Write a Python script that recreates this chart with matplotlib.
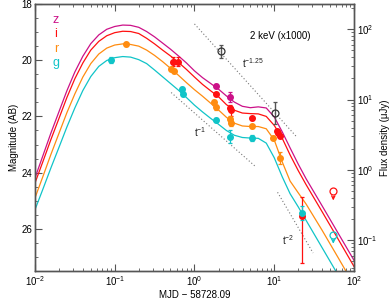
"""Optical light curve (g, r, i, z) with model curves and 2 keV X-ray points."""

import matplotlib.pyplot as plt
from matplotlib.ticker import LogLocator, MultipleLocator, NullFormatter

plt.rcParams['font.family'] = ['Liberation Sans', 'DejaVu Sans']
plt.rcParams['mathtext.fontset'] = 'custom'
plt.rcParams['mathtext.rm'] = 'Liberation Sans'
plt.rcParams['font.size'] = 7

# model curves (days since MJD 58728.09, AB mag)
MODEL_T = [0.01, 0.0126, 0.0158, 0.02, 0.0251, 0.0316, 0.0398, 0.0501, 0.0631,
           0.0794, 0.1, 0.126, 0.158, 0.2, 0.251, 0.316, 0.398, 0.501, 0.631,
           0.794, 1.0, 1.26, 1.58, 2.0, 2.51, 3.16, 3.98, 5.01, 6.31, 7.94,
           10.0, 12.6, 15.8, 20.0, 25.1, 39.8, 63.1, 100.0]
MODEL_Z = [24.19, 23.39, 22.60, 21.83, 21.09, 20.42, 19.86, 19.41, 19.10, 18.90,
           18.80, 18.75, 18.76, 18.83, 18.98, 19.17, 19.39, 19.61, 19.85, 20.10,
           20.38, 20.62, 20.82, 21.03, 21.27, 21.49, 21.64, 21.69, 21.66, 21.70,
           22.02, 22.55, 23.12, 23.70, 24.22, 25.18, 26.15, 27.12]
MODEL_I = [24.37, 23.60, 22.83, 22.07, 21.33, 20.66, 20.10, 19.64, 19.33, 19.13,
           19.02, 18.97, 18.98, 19.05, 19.22, 19.42, 19.64, 19.85, 20.08, 20.33,
           20.60, 20.86, 21.08, 21.30, 21.58, 21.78, 21.88, 21.90, 21.91, 22.00,
           22.32, 22.78, 23.37, 23.93, 24.43, 25.39, 26.36, 27.34]
MODEL_R = [24.90, 24.13, 23.36, 22.60, 21.87, 21.20, 20.60, 20.12, 19.78, 19.57,
           19.46, 19.42, 19.44, 19.50, 19.64, 19.83, 20.05, 20.29, 20.54, 20.80,
           21.05, 21.28, 21.52, 21.77, 22.03, 22.24, 22.34, 22.36, 22.36, 22.44,
           22.84, 23.62, 24.30, 24.72, 25.12, 26.05, 27.02, 28.00]
MODEL_G = [25.32, 24.58, 23.84, 23.10, 22.38, 21.70, 21.08, 20.58, 20.22, 20.01,
           19.91, 19.87, 19.89, 19.98, 20.12, 20.35, 20.59, 20.83, 21.07, 21.33,
           21.60, 21.84, 22.06, 22.28, 22.50, 22.67, 22.75, 22.77, 22.78, 22.95,
           23.47, 24.15, 24.75, 25.22, 25.70, 26.67, 27.64, 28.61]

# detections
Z_T = [1.87, 2.79]
Z_MAG = [20.93, 21.31]
Z_ERR = [0.07, 0.19]

I_T = [0.53, 0.62, 1.87, 2.79, 2.87, 5.2, 10.7, 11.3, 11.9, 22.2]
I_MAG = [20.05, 20.05, 21.21, 21.69, 21.76, 22.07, 22.52, 22.58, 22.68, 25.54]
I_ERR_BRIGHT = [0.17, 0.17, 0.05, 0.08, 0.1, 0.05, 0.05, 0.05, 0.05, 0.67]
I_ERR_FAINT = [0.17, 0.17, 0.05, 0.08, 0.22, 0.05, 0.05, 0.05, 0.05, 1.66]

R_T = [0.14, 0.51, 0.55, 1.75, 1.85, 2.75, 2.85, 5.2, 9.7, 11.9]
R_MAG = [19.43, 20.33, 20.38, 21.5, 21.68, 22.1, 22.23, 22.35, 22.76, 23.48]
R_ERR = [0.05, 0.06, 0.06, 0.08, 0.08, 0.1, 0.1, 0.05, 0.05, 0.22]

G_T = [0.089, 0.70, 0.72, 1.87, 2.8, 5.2, 22.2]
G_MAG = [20.0, 21.04, 21.21, 22.13, 22.72, 22.76, 25.44]
G_ERR = [0.1, 0.08, 0.08, 0.06, 0.22, 0.1, 0.25]

# upper limits (i, g)
UL_T = [55.0, 55.0]
UL_MAG = [24.67, 26.21]

# 2 keV (x1000), expressed on the AB scale
X_T = [2.15, 10.3]
X_MAG = [19.69, 21.87]
X_ERR = [0.24, 0.39]

# power-law guide lines: (t_start, t_end, mag_start, mag_end)
GUIDE_T0 = [1.0, 0.51, 11.0]
GUIDE_T1 = [19.4, 5.96, 30.7]
GUIDE_M0 = [18.71, 21.15, 24.70]
GUIDE_M1 = [22.75, 23.81, 26.86]
GUIDE_LABELS = [r'$\mathdefault{t^{-1.25}}$', r'$\mathdefault{t^{-1}}$', r'$\mathdefault{t^{-2}}$']
GUIDE_LABEL_T = [3.95, 1.0, 12.6]
GUIDE_LABEL_MAG = [20.1, 22.55, 26.4]

BANDS = ['z', 'i', 'r', 'g']
COLORS = {'z': '#cc1188', 'i': '#ff1010', 'r': '#ff8c10', 'g': '#10c4c8'}

fig = plt.figure(figsize=(3.9, 3.0), dpi=100)
ax = fig.add_axes([0.0897, 0.0967, 0.8180, 0.8900])

models = {'z': MODEL_Z, 'i': MODEL_I, 'r': MODEL_R, 'g': MODEL_G}
for b in BANDS:
    ax.plot(MODEL_T, models[b], color=COLORS[b], lw=0.9, zorder=2)

ebkw = dict(fmt='o', ms=4, capsize=1.5, elinewidth=0.9, capthick=0.9, zorder=3)
ax.errorbar(Z_T, Z_MAG, yerr=Z_ERR, color=COLORS['z'], **ebkw)
ax.errorbar(I_T, I_MAG, yerr=[I_ERR_BRIGHT, I_ERR_FAINT], color=COLORS['i'], **ebkw)
ax.errorbar(R_T, R_MAG, yerr=R_ERR, color=COLORS['r'], **ebkw)
ax.errorbar(G_T, G_MAG, yerr=G_ERR, color=COLORS['g'], **ebkw)

for t, m, c in zip(UL_T, UL_MAG, [COLORS['i'], COLORS['g']]):
    ax.plot(t, m, 'o', ms=5, mfc='none', mec=c, mew=0.9, zorder=3)
    ax.annotate('', xy=(t, m + 0.42), xytext=(t, m + 0.08),
                arrowprops=dict(arrowstyle='->', color=c, lw=0.9, mutation_scale=6))

ax.errorbar(X_T, X_MAG, yerr=X_ERR, fmt='o', ms=5, mfc='none', mec='#333333',
            color='#555555', capsize=1.5, elinewidth=1.0, capthick=1.0, mew=0.9, zorder=3)
ax.text(11.9, 19.14, '2 keV (x1000)', ha='center', va='center', fontsize=7)

for t0, t1, m0, m1 in zip(GUIDE_T0, GUIDE_T1, GUIDE_M0, GUIDE_M1):
    ax.plot([t0, t1], [m0, m1], ls=(0, (1, 2)), color='#777777', lw=0.8, zorder=1)
for lab, t, m in zip(GUIDE_LABELS, GUIDE_LABEL_T, GUIDE_LABEL_MAG):
    ax.text(t, m, lab, ha='left', va='center', fontsize=7, color='#222222')

for k, b in enumerate(BANDS):
    ax.text(0.066, 0.94 - 0.054 * k, b, transform=ax.transAxes, color=COLORS[b],
            fontsize=9, ha='center', va='center')

ax.set_xscale('log')
ax.set_xlim(0.01, 100)
ax.set_ylim(27.5, 18)
ax.yaxis.set_major_locator(MultipleLocator(2))
ax.yaxis.set_minor_locator(MultipleLocator(0.5))
ax.set_xlabel('MJD \u2212 58728.09', labelpad=2)
ax.set_ylabel('Magnitude (AB)', labelpad=2)

ax2 = ax.twinx()
ax2.set_yscale('log')
ax2.set_ylim(10 ** ((23.9 - 27.5) / 2.5), 10 ** ((23.9 - 18) / 2.5))
ax2.yaxis.set_major_locator(LogLocator(base=10))
ax2.yaxis.set_minor_locator(LogLocator(base=10, subs=range(2, 10)))
ax2.yaxis.set_minor_formatter(NullFormatter())
ax2.set_ylabel('Flux density (\u03bcJy)', labelpad=2)

for a in (ax, ax2):
    for s in a.spines.values():
        s.set_color('#555555')
        s.set_linewidth(1.0)
ax.tick_params(which='both', direction='in', top=True, right=False, color='#555555', pad=2)
ax.tick_params(which='major', length=5)
ax.tick_params(which='minor', length=2.5)
ax2.tick_params(which='both', direction='in', color='#555555', pad=2)
ax2.tick_params(which='major', length=5)
ax2.tick_params(which='minor', length=2.5)

fig.savefig('out.png', dpi=100)
